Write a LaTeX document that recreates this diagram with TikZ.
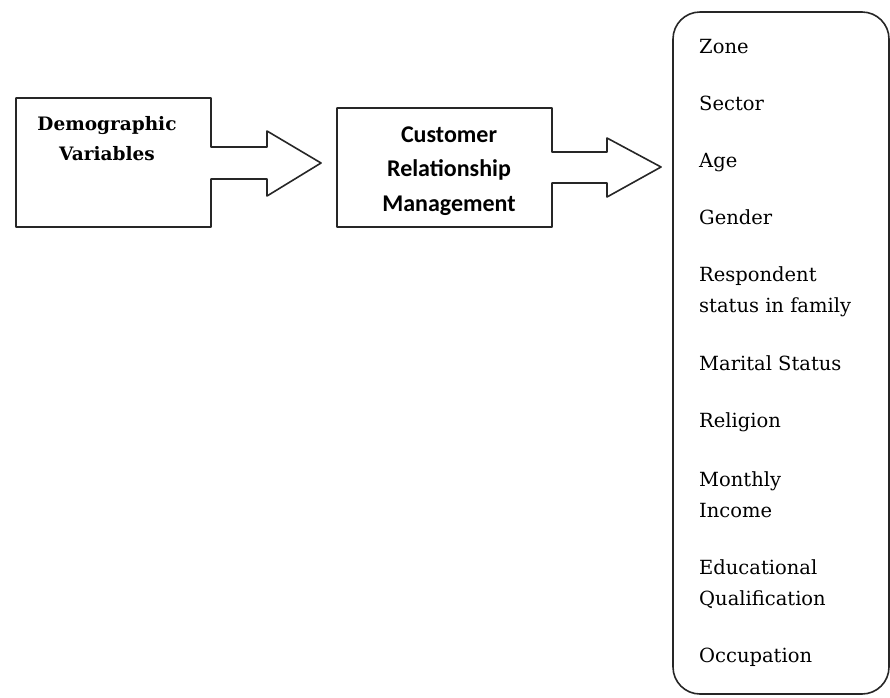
\documentclass[tikz,border=0pt]{standalone}
\usepackage{fontspec}
\setmainfont{DejaVu Serif}
\newfontfamily\calibrifont{Carlito}

\begin{document}
\begin{tikzpicture}[line cap=round,line join=round,x=1pt,y=-1pt]
				\useasboundingbox (0,0) rectangle (890,697);
				\tikzset{outline/.style={line width=1.6pt,color=black!85},
					item/.style={anchor=base west,align=left,inner sep=0pt,font=\fontsize{19.5}{31}\selectfont}}

				% Demographic box with its arrow
				\draw [outline] (16,98) -- (211,98) -- (211,147) -- (267,147) -- (267,131) -- (321,163)
					-- (267,196) -- (267,179) -- (211,179) -- (211,227) -- (16,227) -- cycle;
				%% base of a two-line node = baseline of its last line
				\node [anchor=base,align=center,inner sep=0pt,font=\bfseries\fontsize{18.5}{30}\selectfont] (demo) at (107,160) {Demographic\\Variables};

				% CRM box with its arrow
				\draw [outline] (337,108) -- (552,108) -- (552,152) -- (607,152) -- (607,138) -- (661,167)
					-- (607,197) -- (607,183) -- (552,183) -- (552,227) -- (337,227) -- cycle;
				\node [anchor=base,align=center,inner sep=0pt,font=\calibrifont\bfseries\fontsize{24}{34.5}\selectfont] (crm) at (449,211) {Customer\\Relationship\\Management};

				% Variables list
				\draw [outline,rounded corners=27pt] (673,12) rectangle (889,694);
				\node [item] (zone) at (699,53) {Zone};
				\node [item] (sector) at (699,110) {Sector};
				\node [item] (age) at (699,167) {Age};
				\node [item] (gender) at (699,224) {Gender};
				\node [item] (respondent) at (699,312) {Respondent\\status in family};
				\node [item] (marital) at (699,370) {Marital Status};
				\node [item] (religion) at (699,427) {Religion};
				\node [item] (income) at (699,517) {Monthly\\Income};
				\node [item] (education) at (699,605) {Educational\\Qualification};
				\node [item] (occupation) at (699,662) {Occupation};
			\end{tikzpicture}
\end{document}
